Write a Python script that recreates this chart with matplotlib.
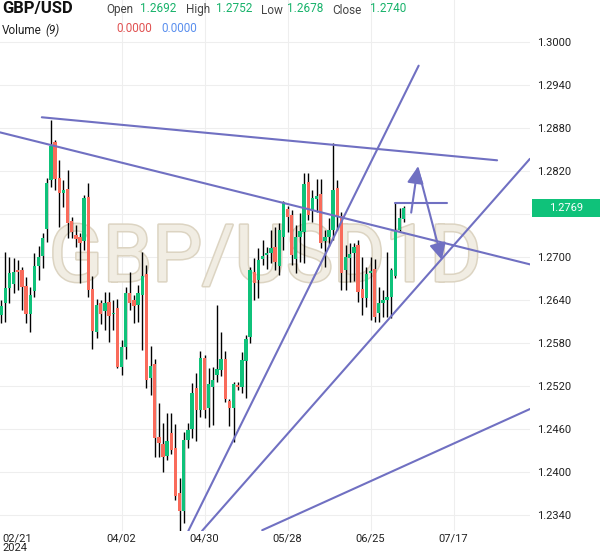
import matplotlib
matplotlib.use("Agg")
import matplotlib.pyplot as plt
import matplotlib.patheffects as pe
import matplotlib.transforms as mtransforms
from matplotlib.patches import Rectangle
import numpy as np

plt.rcParams['font.family'] = ['Roboto', 'DejaVu Sans']

# ── Date ─────────────────────────────────────────────────────────────────────
opens = [
    1.2619, 1.2636, 1.2657, 1.2662, 1.2682, 1.2682, 1.2660, 1.2621, 1.2652, 1.2688,
    1.2702, 1.2739, 1.2808, 1.2861, 1.2811, 1.2790, 1.2795, 1.2750, 1.2731, 1.2728,
    1.2722, 1.2784, 1.2655, 1.2596, 1.2636, 1.2625, 1.2637, 1.2621, 1.2629, 1.2547,
    1.2575, 1.2650, 1.2640, 1.2633, 1.2647, 1.2676, 1.2531, 1.2551, 1.2449, 1.2439,
    1.2423, 1.2455, 1.2434, 1.2371, 1.2346, 1.2445, 1.2460, 1.2517, 1.2487, 1.2559,
    1.2489, 1.2519, 1.2535, 1.2542, 1.2558, 1.2499, 1.2489, 1.2522, 1.2519, 1.2555,
    1.2588, 1.2679, 1.2668, 1.2697, 1.2703, 1.2706, 1.2714, 1.2688, 1.2728, 1.2767,
    1.2759, 1.2697, 1.2728, 1.2735, 1.2805, 1.2766, 1.2781, 1.2788, 1.2722, 1.2728,
    1.2738, 1.2796, 1.2757, 1.2682, 1.2699, 1.2706, 1.2717, 1.2655, 1.2643, 1.2678,
    1.2683, 1.2622, 1.2636, 1.2640, 1.2644, 1.2674, 1.2738, 1.2753,
]
highs = [
    1.2640, 1.2707, 1.2700, 1.2699, 1.2696, 1.2686, 1.2672, 1.2658, 1.2706, 1.2715,
    1.2734, 1.2810, 1.2891, 1.2863, 1.2835, 1.2808, 1.2821, 1.2756, 1.2745, 1.2734,
    1.2786, 1.2803, 1.2674, 1.2641, 1.2640, 1.2651, 1.2651, 1.2640, 1.2641, 1.2584,
    1.2658, 1.2679, 1.2647, 1.2661, 1.2707, 1.2689, 1.2576, 1.2558, 1.2496, 1.2469,
    1.2482, 1.2482, 1.2467, 1.2392, 1.2456, 1.2469, 1.2524, 1.2538, 1.2569, 1.2563,
    1.2545, 1.2547, 1.2633, 1.2596, 1.2569, 1.2502, 1.2526, 1.2526, 1.2568, 1.2591,
    1.2686, 1.2699, 1.2713, 1.2724, 1.2714, 1.2738, 1.2742, 1.2748, 1.2778, 1.2771,
    1.2766, 1.2745, 1.2761, 1.2817, 1.2817, 1.2794, 1.2809, 1.2809, 1.2738, 1.2755,
    1.2859, 1.2808, 1.2763, 1.2717, 1.2720, 1.2720, 1.2724, 1.2700, 1.2686, 1.2700,
    1.2697, 1.2658, 1.2654, 1.2707, 1.2685, 1.2777, 1.2769, 1.2771,
]
lows = [
    1.2608, 1.2609, 1.2636, 1.2650, 1.2654, 1.2626, 1.2608, 1.2596, 1.2644, 1.2668,
    1.2685, 1.2721, 1.2798, 1.2794, 1.2742, 1.2770, 1.2727, 1.2727, 1.2714, 1.2664,
    1.2710, 1.2644, 1.2572, 1.2587, 1.2607, 1.2598, 1.2582, 1.2598, 1.2545, 1.2535,
    1.2558, 1.2626, 1.2608, 1.2609, 1.2570, 1.2517, 1.2508, 1.2421, 1.2421, 1.2400,
    1.2417, 1.2425, 1.2361, 1.2300, 1.2329, 1.2434, 1.2448, 1.2443, 1.2477, 1.2476,
    1.2463, 1.2466, 1.2526, 1.2534, 1.2498, 1.2464, 1.2442, 1.2515, 1.2510, 1.2503,
    1.2580, 1.2640, 1.2643, 1.2689, 1.2683, 1.2692, 1.2682, 1.2675, 1.2710, 1.2735,
    1.2689, 1.2678, 1.2693, 1.2692, 1.2752, 1.2749, 1.2763, 1.2713, 1.2686, 1.2715,
    1.2724, 1.2738, 1.2654, 1.2654, 1.2665, 1.2667, 1.2637, 1.2619, 1.2630, 1.2612,
    1.2609, 1.2609, 1.2616, 1.2616, 1.2615, 1.2671, 1.2735, 1.2749,
]
closes = [
    1.2632, 1.2657, 1.2678, 1.2679, 1.2679, 1.2658, 1.2621, 1.2647, 1.2688, 1.2700,
    1.2727, 1.2803, 1.2855, 1.2809, 1.2789, 1.2794, 1.2748, 1.2735, 1.2725, 1.2719,
    1.2782, 1.2654, 1.2597, 1.2633, 1.2621, 1.2636, 1.2618, 1.2622, 1.2547, 1.2575,
    1.2650, 1.2636, 1.2632, 1.2650, 1.2674, 1.2529, 1.2548, 1.2448, 1.2441, 1.2421,
    1.2443, 1.2431, 1.2367, 1.2346, 1.2445, 1.2459, 1.2510, 1.2487, 1.2559, 1.2487,
    1.2523, 1.2529, 1.2544, 1.2558, 1.2502, 1.2489, 1.2523, 1.2519, 1.2556, 1.2586,
    1.2682, 1.2664, 1.2696, 1.2702, 1.2706, 1.2713, 1.2693, 1.2738, 1.2777, 1.2756,
    1.2703, 1.2728, 1.2736, 1.2802, 1.2759, 1.2782, 1.2785, 1.2719, 1.2728, 1.2738,
    1.2794, 1.2757, 1.2678, 1.2700, 1.2704, 1.2714, 1.2651, 1.2643, 1.2676, 1.2681,
    1.2616, 1.2636, 1.2640, 1.2644, 1.2682, 1.2738, 1.2755, 1.2769,
]

price_ticks  = [1.2340, 1.2400, 1.2460, 1.2520, 1.2580, 1.2640, 1.2700,
                1.2760, 1.2820, 1.2880, 1.2940, 1.3000]
price_labels = ["1.2340", "1.2400", "1.2460", "1.2520", "1.2580", "1.2640", "1.2700",
                "", "1.2820", "1.2880", "1.2940", "1.3000"]
date_ticks   = [29, 49, 69, 89, 109]
date_labels  = ["04/02", "04/30", "05/28", "06/25", "07/17"]
first_label  = "02/21\n2024"

last_price   = 1.2769

header_names  = ["Open", "High", "Low", "Close"]
header_values = ["1.2692", "1.2752", "1.2678", "1.2740"]
volume_values = ["0.0000", "0.0000"]

# desene: (index bară, preț)
trend_lines = [
    ((9.8, 1.2895), (119.5, 1.2835)),
    ((-1.0, 1.2875), (128.0, 1.2689)),
    ((45.1, 1.2318), (100.6, 1.2967)),
    ((48.4, 1.2318), (127.4, 1.2837)),
    ((62.9, 1.2319), (127.4, 1.2488)),
    ((94.9, 1.2775), (107.4, 1.2775)),
]
arrows = [
    ((98.8, 1.2762), (100.4, 1.2826)),
    ((100.4, 1.2824), (106.2, 1.2696)),
]

# ── Plot ──────────────────────────────────────────────────────────────────────
GREEN = "#0fc27a"
RED = "#f96b5b"
LINE = "#7070c2"

W, H = 600, 558
fig = plt.figure(figsize=(W / 100, H / 100), dpi=100)
fig.patch.set_facecolor("white")
ax = fig.add_axes([0, 27 / H, 530 / W, 531 / H])
ax.set_facecolor("white")

x = np.arange(len(opens))
o = np.array(opens); c = np.array(closes)
hi = np.array(highs); lo = np.array(lows)
up = c >= o

ax.vlines(x, lo, hi, color="black", lw=1.0, zorder=2)
body_lo = np.minimum(o, c)
body_h = np.maximum(np.abs(c - o), 0.00012)
ax.bar(x[up], body_h[up], bottom=body_lo[up], width=0.8, color=GREEN, zorder=3, linewidth=0)
ax.bar(x[~up], body_h[~up], bottom=body_lo[~up], width=0.8, color=RED, zorder=3, linewidth=0)

for (x0, y0), (x1, y1) in trend_lines:
    ax.plot([x0, x1], [y0, y1], color=LINE, lw=1.5, zorder=4, solid_capstyle="round")
for (x0, y0), (x1, y1) in arrows:
    ax.annotate("", xy=(x1, y1), xytext=(x0, y0),
                arrowprops=dict(arrowstyle="-|>,head_length=1.0,head_width=0.5",
                                color=LINE, lw=1.5, shrinkA=0, shrinkB=0),
                zorder=4)

ax.set_xlim(-0.277, 127.43)
ax.set_ylim(1.23179, 1.30586)

# watermark
ax.text(0.5, 0.512, "GBP/USD1D", transform=ax.transAxes, ha="center", va="center",
        fontsize=57, color="#f1ede3", zorder=1,
        path_effects=[pe.withStroke(linewidth=2.2, foreground="#dcd4c2")])

ax.grid(True, color="#eeeeee", lw=0.8, zorder=0)
ax.set_axisbelow(True)
for s in ax.spines.values():
    s.set_visible(False)

ax.yaxis.tick_right()
ax.set_yticks(price_ticks)
ax.set_yticklabels(price_labels, fontsize=8, color="#222222")
ax.tick_params(axis="y", length=0, pad=5)
ax.set_xticks(date_ticks)
ax.set_xticklabels(date_labels, fontsize=8, color="#222222")
ax.tick_params(axis="x", length=0, pad=2)

fig.text(2 / W, 1 - 533 / H, first_label, ha="left", va="top", fontsize=8,
         color="#222222", linespacing=0.95)

# eticheta prețului curent
trans = mtransforms.blended_transform_factory(ax.transAxes, ax.transData)
ax.add_patch(Rectangle((532 / 530, last_price - 0.00126), 68 / 530, 0.00252,
                       transform=trans, facecolor=GREEN, edgecolor="none",
                       clip_on=False, zorder=5))
ax.text(566 / 530, last_price, f"{last_price:.4f}", transform=trans, ha="center",
        va="center", fontsize=8, color="white", clip_on=False, zorder=6)

# antet
fig.text(2 / W, 1 - 9 / H, "GBP/USD", ha="left", va="center", fontsize=12,
         fontweight="bold", color="#111111")
name_x = [106, 186, 261, 332]
val_x = [140, 216, 287, 370]
for nm, nx, val, vx in zip(header_names, name_x, header_values, val_x):
    fig.text(nx / W, 1 - 10 / H, nm, ha="left", va="center", fontsize=8.5, color="#444444")
    fig.text(vx / W, 1 - 9 / H, val, ha="left", va="center", fontsize=8.5, color="#17b26a")
fig.text(2 / W, 1 - 30 / H, "Volume", ha="left", va="center", fontsize=8.5, color="#222222")
fig.text(45 / W, 1 - 30 / H, "(9)", ha="left", va="center", fontsize=8.5,
         color="#222222", style="italic")
fig.text(116 / W, 1 - 29 / H, volume_values[0], ha="left", va="center", fontsize=8.5, color="#e05252")
fig.text(161 / W, 1 - 29 / H, volume_values[1], ha="left", va="center", fontsize=8.5, color="#5a8fee")

fig.savefig("out.png", dpi=100)
